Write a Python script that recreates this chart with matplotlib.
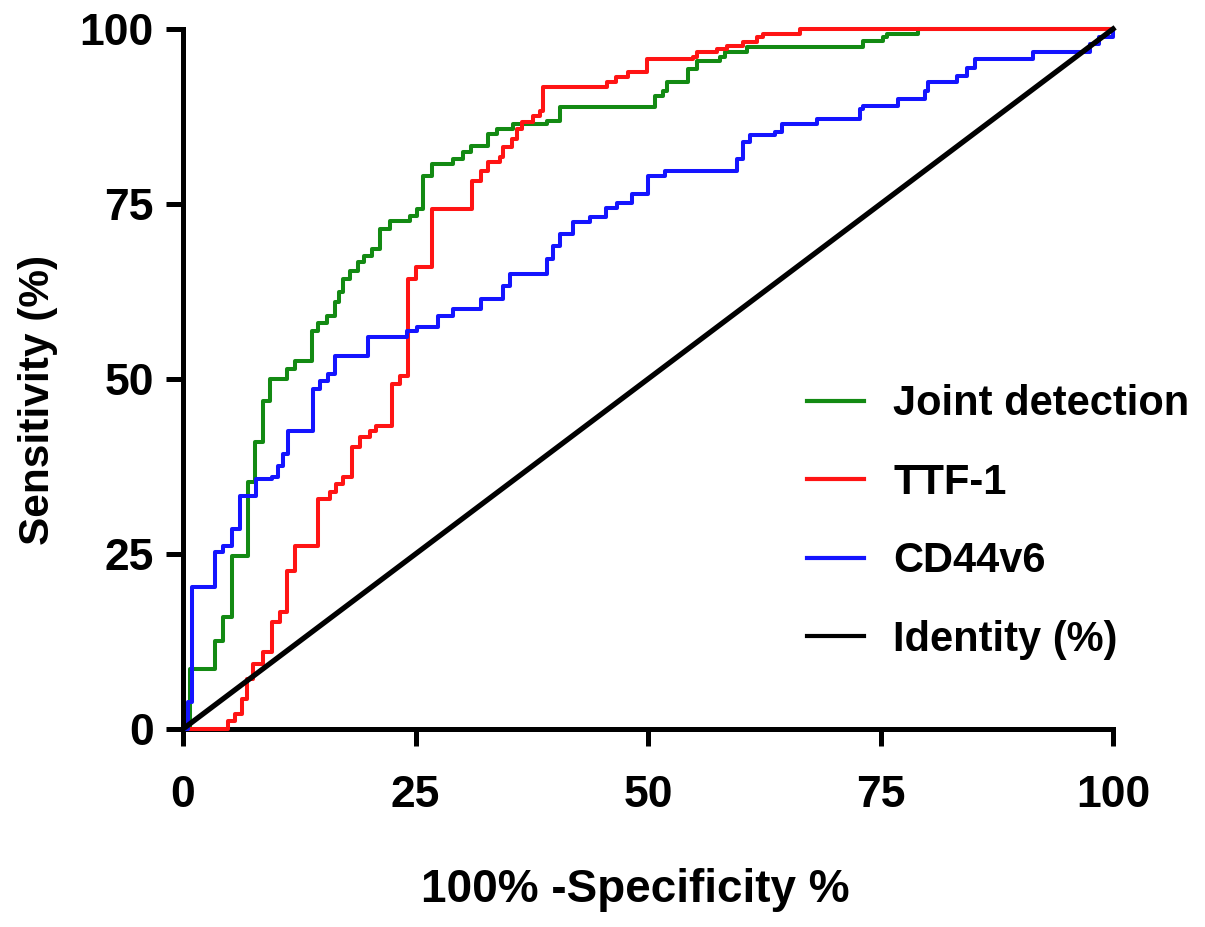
import matplotlib
matplotlib.use("Agg")
import matplotlib.pyplot as plt

plt.rcParams['font.family'] = ['Liberation Sans', 'DejaVu Sans']
plt.rcParams['font.weight'] = 'bold'

# ROC step points: (1 - specificity %, sensitivity %), each = corner after a vertical rise
joint_x = [0, 0.8, 3.4, 4.3, 5.3, 7.0, 7.7, 8.6, 9.4, 11.2, 12.0, 13.9, 14.5, 15.5, 16.3,
           16.8, 17.2, 18.0, 18.8, 19.5, 20.3, 21.2, 22.3, 24.4, 25.2, 25.8, 26.8, 29.0,
           30.1, 31.0, 32.8, 33.8, 35.5, 39.1, 40.5, 50.8, 51.6, 52.0, 54.3, 55.3, 57.7,
           58.3, 60.6, 73.1, 75.3, 75.7, 79.0, 100]
joint_y = [0, 8.6, 12.6, 16.0, 24.7, 35.3, 41.0, 46.9, 50.0, 51.4, 52.6, 56.9, 58.0, 59.0, 61.0,
           62.4, 64.3, 65.5, 66.7, 67.6, 68.6, 71.4, 72.6, 73.3, 74.3, 79.0, 80.7, 81.5,
           82.5, 83.3, 85.0, 85.7, 86.4, 86.9, 88.9, 90.4, 91.2, 92.4, 94.3, 95.4, 96.0,
           96.7, 97.4, 98.3, 98.8, 99.3, 100, 100]

ttf_x = [0, 4.8, 5.6, 6.3, 6.9, 7.5, 8.6, 9.6, 10.4, 11.2, 12.0, 14.5, 15.8, 16.5, 17.2,
         18.2, 19.0, 20.1, 20.8, 22.5, 23.3, 24.2, 25.0, 26.8, 31.1, 32.0, 32.8, 34.1, 34.4,
         35.4, 35.9, 36.5, 37.6, 38.4, 38.7, 45.6, 46.6, 47.8, 49.9, 54.8, 55.3, 57.4, 58.5,
         60.2, 61.7, 62.4, 66.3, 100]
ttf_y = [0, 1.1, 2.1, 4.3, 7.1, 9.3, 11.0, 15.3, 16.7, 22.6, 26.2, 32.9, 33.8, 35.0, 36.0,
         40.3, 41.7, 42.6, 43.3, 49.3, 50.5, 64.3, 66.0, 74.3, 78.3, 79.7, 81.0, 81.7, 83.1,
         84.3, 85.7, 86.7, 87.6, 88.3, 91.7, 92.4, 93.1, 93.8, 95.7, 96.0, 96.7, 97.1, 97.6,
         98.1, 98.8, 99.3, 100, 100]

cd44_x = [0, 0.5, 1.0, 3.4, 4.3, 5.3, 6.1, 7.9, 9.6, 10.2, 10.8, 11.3, 14.0, 14.7, 15.6,
          16.3, 19.9, 24.1, 25.2, 27.4, 29.0, 32.0, 34.4, 35.2, 39.1, 39.8, 40.5, 41.9, 43.8,
          45.5, 46.7, 48.3, 50.0, 51.8, 59.6, 60.2, 61.0, 63.7, 64.4, 68.2, 72.8, 73.1, 76.9,
          79.8, 80.1, 83.2, 84.3, 85.2, 91.4, 97.5, 98.5, 100]
cd44_y = [0, 3.9, 20.3, 25.3, 26.2, 28.6, 33.3, 35.7, 36.0, 37.6, 39.3, 42.6, 48.6, 49.7, 50.7,
          53.3, 56.0, 56.9, 57.4, 59.0, 60.0, 61.4, 63.3, 65.0, 67.1, 69.0, 70.7, 72.4, 73.1,
          74.5, 75.2, 76.4, 79.0, 79.7, 81.4, 83.8, 84.8, 85.3, 86.4, 87.1, 88.6, 89.0, 90.0,
          91.2, 92.4, 93.3, 94.5, 95.7, 96.7, 97.8, 98.9, 100]

identity_x = [0, 100]
identity_y = [0, 100]

labels = ["Joint detection", "TTF-1", "CD44v6", "Identity (%)"]
xticks = [0, 25, 50, 75, 100]
yticks = [0, 25, 50, 75, 100]

fig = plt.figure(figsize=(12.05, 9.27), dpi=100)
ax = fig.add_axes([183/1205, 1-729/927, (1113-183)/1205, (729-29)/927])

lw = 2.9
h1, = ax.plot(joint_x, joint_y, drawstyle='steps-post', color='#138a13', lw=lw, clip_on=False, zorder=3)
h2, = ax.plot(ttf_x, ttf_y, drawstyle='steps-post', color='#ff1414', lw=lw, clip_on=False, zorder=3)
h3, = ax.plot(cd44_x, cd44_y, drawstyle='steps-post', color='#1414ff', lw=lw, clip_on=False, zorder=3)
h4, = ax.plot(identity_x, identity_y, color='black', lw=3.8, clip_on=False, zorder=4)

ax.set_xlim(0, 100)
ax.set_ylim(0, 100)
ax.set_xticks(xticks)
ax.set_yticks(yticks)
ax.set_xticklabels([str(t) for t in xticks])
ax.set_yticklabels([str(t) for t in yticks])
for s in ['top', 'right']:
    ax.spines[s].set_visible(False)
for s in ['left', 'bottom']:
    ax.spines[s].set_linewidth(3.6)
    ax.spines[s].set_capstyle('projecting')
ax.tick_params(axis='both', direction='out', length=12, width=3.6, labelsize=32)
ax.tick_params(axis='x', pad=21)
ax.tick_params(axis='y', pad=9)
for t in ax.get_xticklabels() + ax.get_yticklabels():
    t.set_fontweight('bold')

fig.text(635/1205, 1-902/927, "100% -Specificity %", ha='center', va='baseline',
         fontsize=33, fontweight='bold')
fig.text(38/1205, 1-400/927, "Sensitivity (%)", ha='center', va='center',
         rotation=90, fontsize=30.5, fontweight='bold')

leg = fig.legend([h1, h2, h3, h4], labels, loc='center left',
                 bbox_to_anchor=(807/1205, 1-522/927), frameon=False,
                 prop={'size': 30, 'weight': 'bold'}, handlelength=1.37,
                 handletextpad=0.7, labelspacing=0.92, borderpad=0, borderaxespad=0)
for line in leg.get_lines():
    line.set_linewidth(3.0)

fig.savefig("out.png", dpi=100)
